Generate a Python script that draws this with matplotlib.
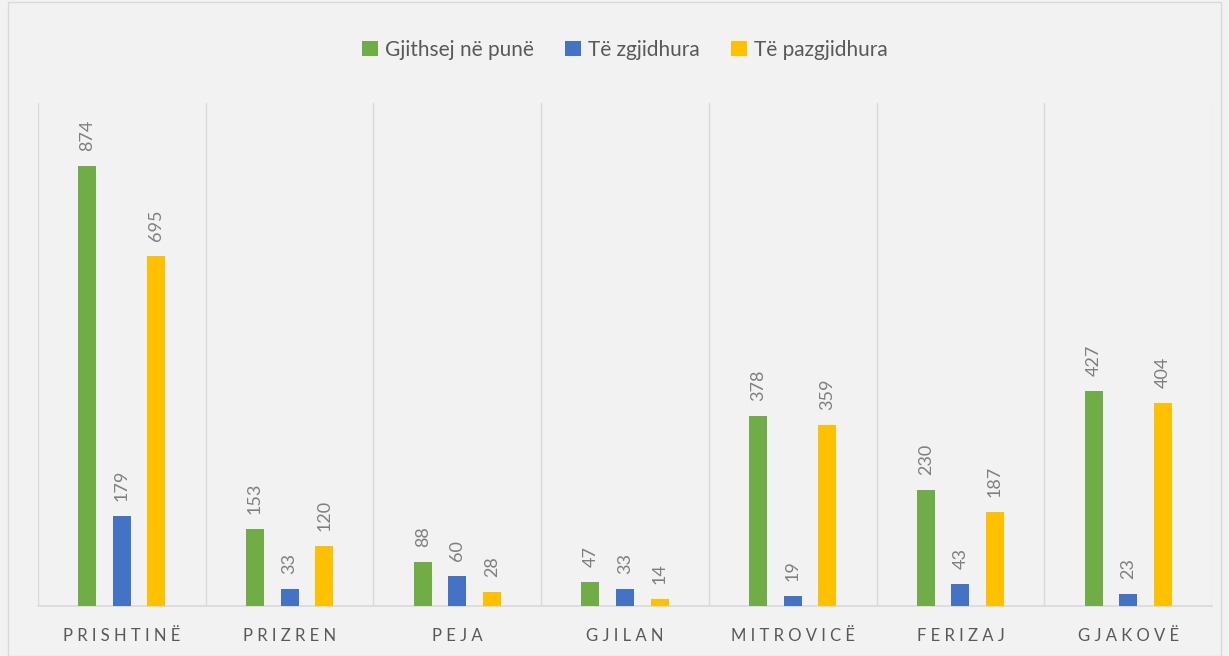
import numpy as np
import matplotlib.pyplot as plt
from matplotlib.patches import Rectangle

plt.rcParams['font.family'] = ['Lato', 'DejaVu Sans']

cities = ["PRISHTINË", "PRIZREN", "PEJA", "GJILAN", "MITROVICË", "FERIZAJ", "GJAKOVË"]
total = [874, 153, 88, 47, 378, 230, 427]
solved = [179, 33, 60, 33, 19, 43, 23]
unsolved = [695, 120, 28, 14, 359, 187, 404]
series_names = ["Gjithsej në punë", "Të zgjidhura", "Të pazgjidhura"]

colors = ["#70AD47", "#4472C4", "#FFC000"]
bg = "#F2F2F2"
text_col = "#595959"

fig = plt.figure(figsize=(12.29, 6.56), dpi=100, facecolor=bg)
ax = fig.add_axes([0.0309, 0.0762, 0.9553, 0.7668], facecolor=bg)

x = np.arange(len(cities))
offsets = [-0.206, 0, 0.206]
width = 0.107

for vals, off, col, name in zip([total, solved, unsolved], offsets, colors, series_names):
    bars = ax.bar(x + off, vals, width, color=col, label=name, zorder=3)
    for b, v in zip(bars, vals):
        ax.text(b.get_x() + b.get_width() / 2, v + 30, str(v), rotation=90,
                ha="center", va="bottom", fontsize=13, color="#7F7F7F")

ax.set_xlim(-0.5, len(cities) - 0.5)
ax.set_ylim(0, 1000)
ax.set_yticks([])
ax.set_xticks(x)
ax.set_xticklabels([" ".join(c) for c in cities], fontsize=12, color=text_col)
ax.tick_params(axis="x", length=0, pad=16)

# vertical separators between categories
for b in np.arange(-0.5, len(cities), 1):
    ax.axvline(b, color="#D9D9D9", lw=1, zorder=1)

for s in ["top", "left", "right"]:
    ax.spines[s].set_visible(False)
ax.spines["bottom"].set_color("#D9D9D9")
ax.spines["bottom"].set_linewidth(1.2)

ax.legend(loc="center", bbox_to_anchor=(0.5, 1.106), ncol=3, frameon=False,
          fontsize=15, handlelength=0.75, handleheight=0.75, handletextpad=0.35,
          columnspacing=1.5, labelcolor=text_col)

# outer chart border
fig.patches.append(Rectangle((8 / 1229, 0), 1 - 16 / 1229, 1 - 2 / 656,
                             transform=fig.transFigure, fill=False,
                             edgecolor="#D9D9D9", lw=1))

fig.savefig("out.png", dpi=100, facecolor=bg)
